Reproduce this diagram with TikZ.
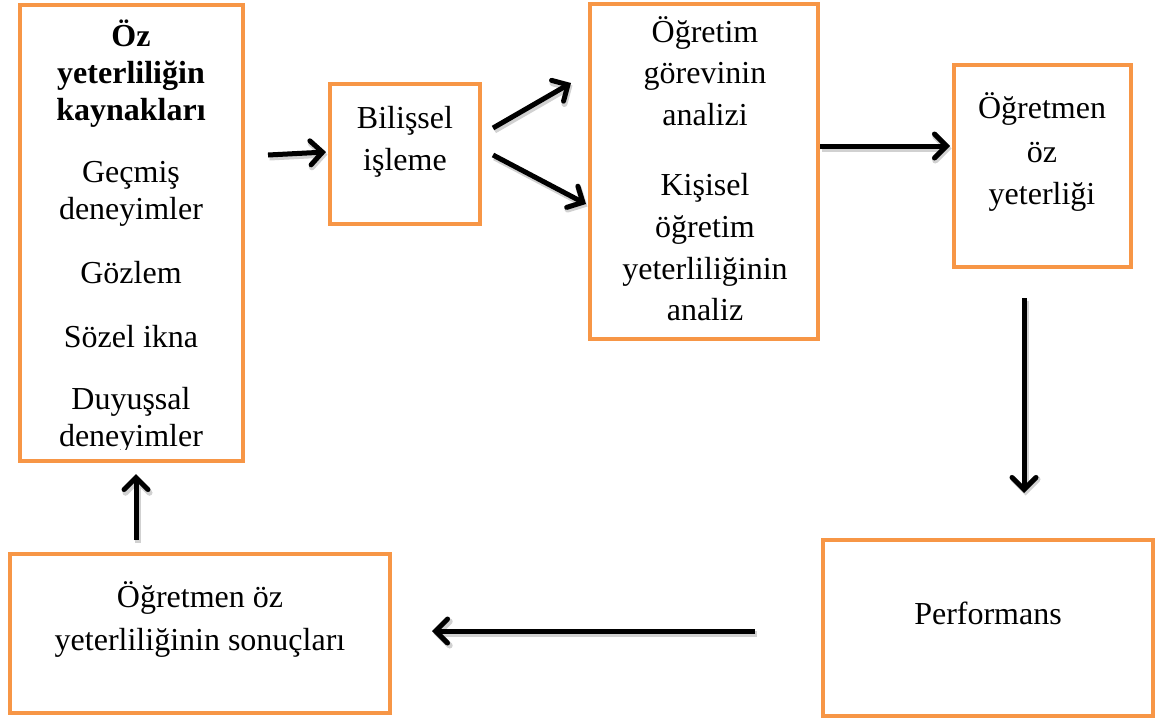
\documentclass[tikz,border=0pt]{standalone}
\usepackage{fontspec}
\setmainfont{Liberation Serif}
\usetikzlibrary{arrows.meta}
\definecolor{boxorange}{HTML}{F79646}
\begin{document}
\begin{tikzpicture}[x=1pt,y=-1pt,
  box/.style={draw=boxorange,line width=4pt,fill=white,rectangle,inner sep=0pt},
  txt/.style={anchor=base,inner sep=0pt,font=\fontsize{32}{40}\selectfont},
  btxt/.style={txt,font=\fontsize{32}{40}\selectfont\bfseries},
  arr/.style={line width=5pt,-{Straight Barb[length=12pt,width=24pt,line cap=round]},
    preaction={draw=black!18,line width=6pt,transform canvas={shift={(1.5pt,-2.5pt)}}}}]
\useasboundingbox (0,0) rectangle (1160,721);

% boxes
\node[box,minimum width=223pt,minimum height=456pt] (src) at (131.5,233) {};
\node[box,minimum width=150pt,minimum height=140pt] (bil) at (405,154) {};
\node[box,minimum width=228pt,minimum height=335pt] (ana) at (704,171.5) {};
\node[box,minimum width=177pt,minimum height=202pt] (eff) at (1042.5,166) {};
\node[box,minimum width=330pt,minimum height=176pt] (perf) at (988,628) {};
\node[box,minimum width=380pt,minimum height=159pt] (res) at (200,633.5) {};

% sources of self-efficacy
\node[btxt] (s1) at (131,46) {Öz};
\node[btxt] (s2) at (131,83) {yeterliliğin};
\node[btxt] (s3) at (131,120) {kaynakları};
\node[txt] (s4) at (131,182) {Geçmiş};
\node[txt] (s5) at (131,219) {deneyimler};
\node[txt] (s6) at (131,283) {Gözlem};
\node[txt] (s7) at (131,347) {Sözel ikna};
\node[txt] (s8) at (131,409) {Duyuşsal};
\begin{scope}
  \clip (20,400) rectangle (243,449);
  \node[txt] (s9) at (131,446) {deneyimler};
\end{scope}

% cognitive processing
\node[txt] (b1) at (405,128) {Bilişsel};
\node[txt] (b2) at (405,170) {işleme};

% analysis
\node[txt] (a1) at (705,42) {Öğretim};
\node[txt] (a2) at (705,83) {görevinin};
\node[txt] (a3) at (705,125) {analizi};
\node[txt] (a4) at (705,195) {Kişisel};
\node[txt] (a5) at (705,237) {öğretim};
\node[txt] (a6) at (705,279) {yeterliliğinin};
\node[txt] (a7) at (705,320) {analiz};

% teacher self-efficacy
\node[txt] (e1) at (1042,118) {Öğretmen};
\node[txt] (e2) at (1042,162) {öz};
\node[txt] (e3) at (1042,204) {yeterliği};

% performance and consequences
\node[txt] (p1) at (988,624) {Performans};
\node[txt] (r1) at (200,607) {Öğretmen öz};
\node[txt] (r2) at (200,650) {yeterliliğinin sonuçları};

% free arrow ends
\coordinate (c1) at (268,155);
\coordinate (c2s) at (493,128);
\coordinate (c2e) at (571,83);
\coordinate (c3s) at (493,155);
\coordinate (c3e) at (586,204);
\coordinate (c5s) at (1024,298);
\coordinate (c5e) at (1024,493);
\coordinate (c6s) at (755,631);
\coordinate (c6e) at (432,631);
\coordinate (c7s) at (136,540);
\coordinate (c7e) at (136,474);

% connectors
\draw[arr] (c1) -- (326,152);
\draw[arr] (c2s) -- (c2e);
\draw[arr] (c3s) -- (c3e);
\draw[arr] (ana.east |- 0,146) -- ([xshift=-2pt]eff.west |- 0,146);
\draw[arr] (c5s) -- (c5e);
\draw[arr] (c6s) -- (c6e);
\draw[arr] (c7s) -- (c7e);
\end{tikzpicture}
\end{document}
